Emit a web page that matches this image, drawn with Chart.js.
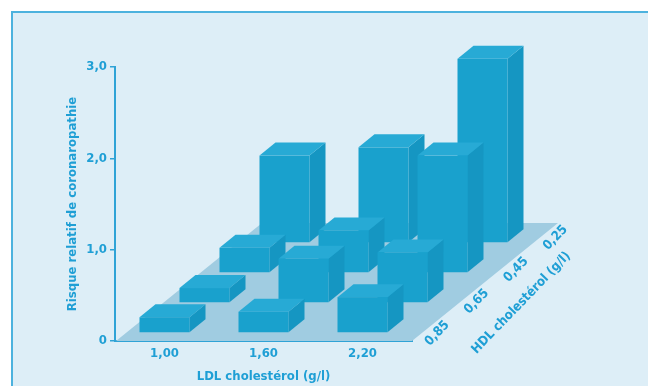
<!DOCTYPE html>
<html>
<head>
<meta charset="utf-8">
<script src="https://cdn.jsdelivr.net/npm/chart.js@4.4.0/dist/chart.umd.min.js"></script>
<style>
  html, body { margin: 0; padding: 0; background: #ffffff; }
  #wrap { position: relative; width: 648px; height: 386px; overflow: hidden; }
  #panel { position: absolute; left: 11px; top: 11px; width: 700px; height: 400px;
           background: #ddeef7; border-left: 2px solid #4cb2de; border-top: 2px solid #4cb2de; }
  canvas { position: absolute; left: 0; top: 0; }
</style>
</head>
<body>
<div id="wrap">
  <div id="panel"></div>
  <canvas id="riskChart" width="648" height="386"></canvas>
</div>
<script>
// LDL columns, HDL rows (front to back)
const ldlLabels = ['1,00', '1,60', '2,20'];
const hdlLabels = ['0,85', '0,65', '0,45', '0,25'];
const risk085 = [0.26, 0.32, 0.48];
const risk065 = [0.58, 0.90, 0.97];
const risk045 = [1.02, 1.21, 2.03];
const risk025 = [2.03, 2.12, 3.09];
const yTicks = [0, 1, 2, 3];

const riskRows = [risk085, risk065, risk045, risk025];

const TEXT = '#1f9fd5';
const AXIS = '#2fa3d6';
const FONT = "'Liberation Sans Narrow', 'DejaVu Sans Condensed', sans-serif";
const FONT_SIZE = 13;

// pseudo 3D geometry (pixels)
const floorDepth = { dx: 146, dy: -118 };
const rowStep = { dx: 40, dy: -30 };
const rowFront = 8;
const barDepth = { dx: 16, dy: -13 };

function fmt(v) {
    return v === 0 ? '0' : v.toFixed(1).replace('.', ',');
}

// Draws the floor, the 3D bars and the HDL depth axis
const bars3d = {
    id: 'bars3d',
    beforeDatasetsDraw(chart) {
        const ctx = chart.ctx;
        const a = chart.chartArea;
        ctx.save();
        ctx.fillStyle = '#a0cce1';
        ctx.beginPath();
        ctx.moveTo(a.left + 1, a.bottom);
        ctx.lineTo(a.right, a.bottom);
        ctx.lineTo(a.right + floorDepth.dx, a.bottom + floorDepth.dy);
        ctx.lineTo(a.left + 1 + floorDepth.dx, a.bottom + floorDepth.dy);
        ctx.closePath();
        ctx.fill();
        ctx.restore();
    },
    afterDatasetsDraw(chart) {
        const ctx = chart.ctx;
        const a = chart.chartArea;
        ctx.save();

        // back rows first
        for (let r = riskRows.length - 1; r >= 0; r--) {
            const meta = chart.getDatasetMeta(r);
            meta.data.forEach(function(el) {
                const w = el.width;
                const x0 = el.x - w / 2 + r * rowStep.dx;
                const yb = el.base - rowFront + r * rowStep.dy;
                const yt = el.y;

                // side
                ctx.fillStyle = '#1596c2';
                ctx.beginPath();
                ctx.moveTo(x0 + w, yt);
                ctx.lineTo(x0 + w + barDepth.dx, yt + barDepth.dy);
                ctx.lineTo(x0 + w + barDepth.dx, yb + barDepth.dy);
                ctx.lineTo(x0 + w, yb);
                ctx.closePath();
                ctx.fill();

                // top
                ctx.fillStyle = '#27aad5';
                ctx.beginPath();
                ctx.moveTo(x0, yt);
                ctx.lineTo(x0 + barDepth.dx, yt + barDepth.dy);
                ctx.lineTo(x0 + w + barDepth.dx, yt + barDepth.dy);
                ctx.lineTo(x0 + w, yt);
                ctx.closePath();
                ctx.fill();

                // front
                ctx.fillStyle = '#19a1cd';
                ctx.fillRect(x0, yt, w, yb - yt);
            });
        }

        // HDL axis labels along the right edge of the floor
        const ex = floorDepth.dx, ey = floorDepth.dy;
        const len = Math.sqrt(ex * ex + ey * ey);
        const nx = -ey / len, ny = ex / len;
        const angle = -46 * Math.PI / 180;
        ctx.fillStyle = TEXT;
        ctx.textAlign = 'center';
        ctx.textBaseline = 'middle';
        ctx.font = 'bold ' + FONT_SIZE + 'px ' + FONT;
        hdlLabels.forEach(function(lab, r) {
            const t = 0.13 + r * 0.27;
            const px = a.right + t * ex + 10 * nx;
            const py = a.bottom + t * ey + 10 * ny;
            ctx.save();
            ctx.translate(px, py);
            ctx.rotate(angle);
            ctx.fillText(lab, 0, 0);
            ctx.restore();
        });
        const tt = 0.58;
        ctx.save();
        ctx.translate(a.right + tt * ex + 39 * nx, a.bottom + tt * ey + 39 * ny);
        ctx.rotate(angle);
        ctx.fillText('HDL cholestérol (g/l)', 0, 0);
        ctx.restore();

        ctx.restore();
    }
};

const ctx = document.getElementById('riskChart');

new Chart(ctx, {
    type: 'bar',
    data: {
        labels: ldlLabels,
        datasets: hdlLabels.map(function(h, r) {
            return {
                label: 'HDL ' + h,
                data: riskRows[r],
                backgroundColor: 'rgba(0, 0, 0, 0)',
                borderWidth: 0,
                grouped: false
            };
        })
    },
    options: {
        responsive: false,
        animation: false,
        layout: {
            padding: { left: 0, right: 236, top: 67, bottom: 0 }
        },
        datasets: {
            bar: { categoryPercentage: 1, barPercentage: 0.505 }
        },
        plugins: {
            legend: { display: false },
            tooltip: { enabled: false }
        },
        scales: {
            x: {
                z: 1,
                grid: { display: false, drawTicks: false },
                border: { display: true, color: AXIS, width: 2 },
                ticks: {
                    color: TEXT,
                    padding: 5,
                    font: { family: FONT, size: FONT_SIZE, weight: 'bold' }
                },
                title: {
                    display: true,
                    text: 'LDL cholestérol (g/l)',
                    color: TEXT,
                    padding: { top: 0, bottom: 2 },
                    font: { family: FONT, size: FONT_SIZE, weight: 'bold' }
                },
                afterFit: function(scale) { scale.height = 45; }
            },
            y: {
                z: 1,
                min: 0,
                max: 3,
                afterBuildTicks: function(scale) {
                    scale.ticks = yTicks.map(function(v) { return { value: v }; });
                },
                grid: { drawOnChartArea: false, tickLength: 5, color: AXIS, lineWidth: 1.5 },
                border: { display: true, color: AXIS, width: 2 },
                ticks: {
                    color: TEXT,
                    padding: 3,
                    font: { family: FONT, size: FONT_SIZE, weight: 'bold' },
                    callback: function(value) { return fmt(value); }
                },
                title: {
                    display: true,
                    text: 'Risque relatif de coronaropathie',
                    color: TEXT,
                    padding: { top: 65, bottom: 0 },
                    font: { family: FONT, size: FONT_SIZE, weight: 'bold' }
                },
                afterFit: function(scale) { scale.width = 115; }
            }
        }
    },
    plugins: [bars3d]
});
</script>
</body>
</html>
